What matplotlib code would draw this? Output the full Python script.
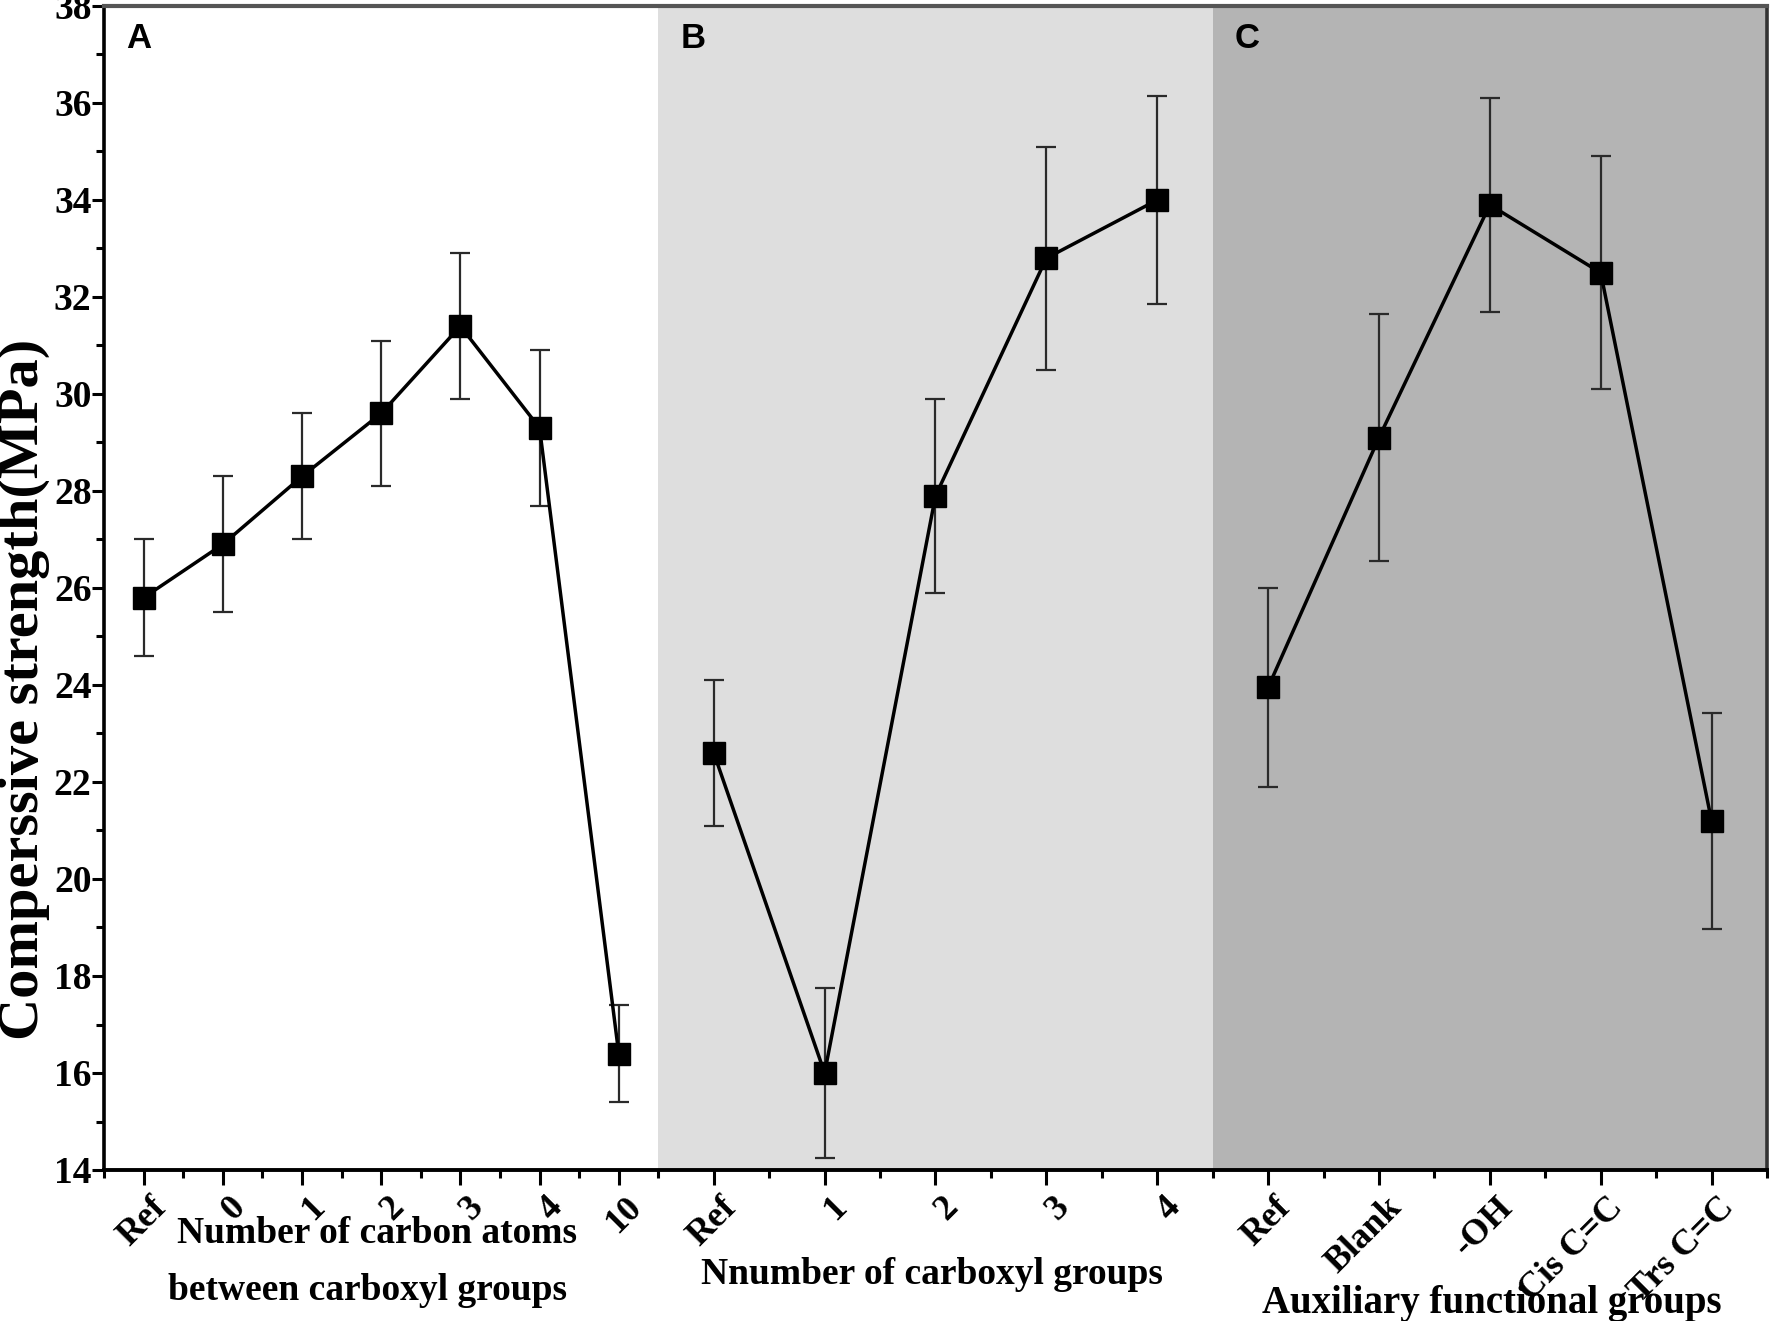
import numpy as np
import matplotlib
matplotlib.use("Agg")
import matplotlib.pyplot as plt
from matplotlib.transforms import ScaledTranslation

# panel A: number of carbon atoms between carboxyl groups
cats_a = ["Ref", "0", "1", "2", "3", "4", "10"]
vals_a = [25.8, 26.9, 28.3, 29.6, 31.4, 29.3, 16.4]
errs_a = [1.2, 1.4, 1.3, 1.5, 1.5, 1.6, 1.0]

# panel B: number of carboxyl groups
cats_b = ["Ref", "1", "2", "3", "4"]
vals_b = [22.6, 16.0, 27.9, 32.8, 34.0]
errs_b = [1.5, 1.75, 2.0, 2.3, 2.15]

# panel C: auxiliary functional groups
cats_c = ["Ref", "Blank", "-OH", "Cis C=C", "Trs C=C"]
vals_c = [23.95, 29.1, 33.9, 32.5, 21.2]
errs_c = [2.05, 2.55, 2.2, 2.4, 2.23]

panel_tags = ["A", "B", "C"]
panel_colors = ["white", "#dedede", "#b4b4b4"]

plt.rcParams['font.family'] = ['Liberation Serif', 'DejaVu Serif']
plt.rcParams['font.weight'] = 'bold'

fig = plt.figure(figsize=(17.72, 13.21), dpi=100)
ax = fig.add_axes([104 / 1772, 1 - 1170 / 1321, 1663 / 1772, 1164 / 1321])

panels = [(cats_a, vals_a, errs_a), (cats_b, vals_b, errs_b), (cats_c, vals_c, errs_c)]
major_pos, major_lab, minor_pos = [], [], []
for i, (cats, vals, errs) in enumerate(panels):
    n = len(cats)
    ax.axvspan(i, i + 1, color=panel_colors[i], zorder=0, lw=0)
    xs = i + (np.arange(n) + 0.5) / n
    ax.errorbar(xs, vals, yerr=errs, fmt='none', ecolor='#2a2a2a', elinewidth=1.6,
                capsize=7.5, capthick=1.6, zorder=2)
    ax.plot(xs, vals, '-', color='black', lw=2.5, zorder=3)
    ax.plot(xs, vals, 's', color='black', ms=16, zorder=4)
    major_pos.extend(xs)
    major_lab.extend(cats)
    minor_pos.extend(i + np.arange(n + 1) / n)
    ax.text(i + 22 / 554, 0.972, panel_tags[i], transform=ax.get_xaxis_transform(),
            fontsize=25, fontweight='bold', family=['Liberation Sans', 'DejaVu Sans'],
            ha='left', va='center')

ax.set_xlim(0, 3)
ax.set_ylim(14, 38)
ax.set_xticks(major_pos)
ax.set_xticklabels(major_lab, rotation=45, ha='right', va='top', rotation_mode='anchor')
ax.set_xticks(sorted(set(np.round(minor_pos, 6))), minor=True)
ax.set_yticks(np.arange(14, 39, 2))
ax.set_yticks(np.arange(15, 38, 2), minor=True)

ax.tick_params(axis='x', which='major', direction='out', length=11, width=2.2,
               labelsize=26, pad=4)
ax.tick_params(axis='x', which='minor', direction='out', length=6, width=2.2)
ax.tick_params(axis='y', which='major', direction='out', length=9, width=2.2,
               labelsize=27, pad=0)
ax.tick_params(axis='y', which='minor', direction='out', length=6, width=2.2)
shift = ScaledTranslation(6 / 100, 0, fig.dpi_scale_trans)
for lab in ax.get_xticklabels():
    lab.set_fontweight('bold')
    lab.set_transform(lab.get_transform() + shift)
for lab in ax.get_yticklabels():
    lab.set_fontweight('bold')

ax.spines['left'].set_linewidth(2.6)
ax.spines['bottom'].set_linewidth(2.8)
ax.spines['top'].set_linewidth(3)
ax.spines['top'].set_color('#555555')
ax.spines['right'].set_linewidth(2.6)
ax.spines['right'].set_color('#333333')

fig.text(0.0135, 0.478, "Comperssive strength(MPa)", rotation=90, fontsize=42,
         fontweight='bold', ha='center', va='center')
fig.text(377 / 1772, 1 - 1243 / 1321, "Number of carbon atoms", fontsize=27,
         fontweight='bold', ha='center', va='baseline')
fig.text(367 / 1772, 1 - 1300 / 1321, "between carboxyl groups", fontsize=27,
         fontweight='bold', ha='center', va='baseline')
fig.text(932 / 1772, 1 - 1284 / 1321, "Nnumber of carboxyl groups", fontsize=27,
         fontweight='bold', ha='center', va='baseline')
fig.text(1492 / 1772, 1 - 1313 / 1321, "Auxiliary functional groups", fontsize=28,
         fontweight='bold', ha='center', va='baseline')

fig.savefig("out.png", dpi=100)
